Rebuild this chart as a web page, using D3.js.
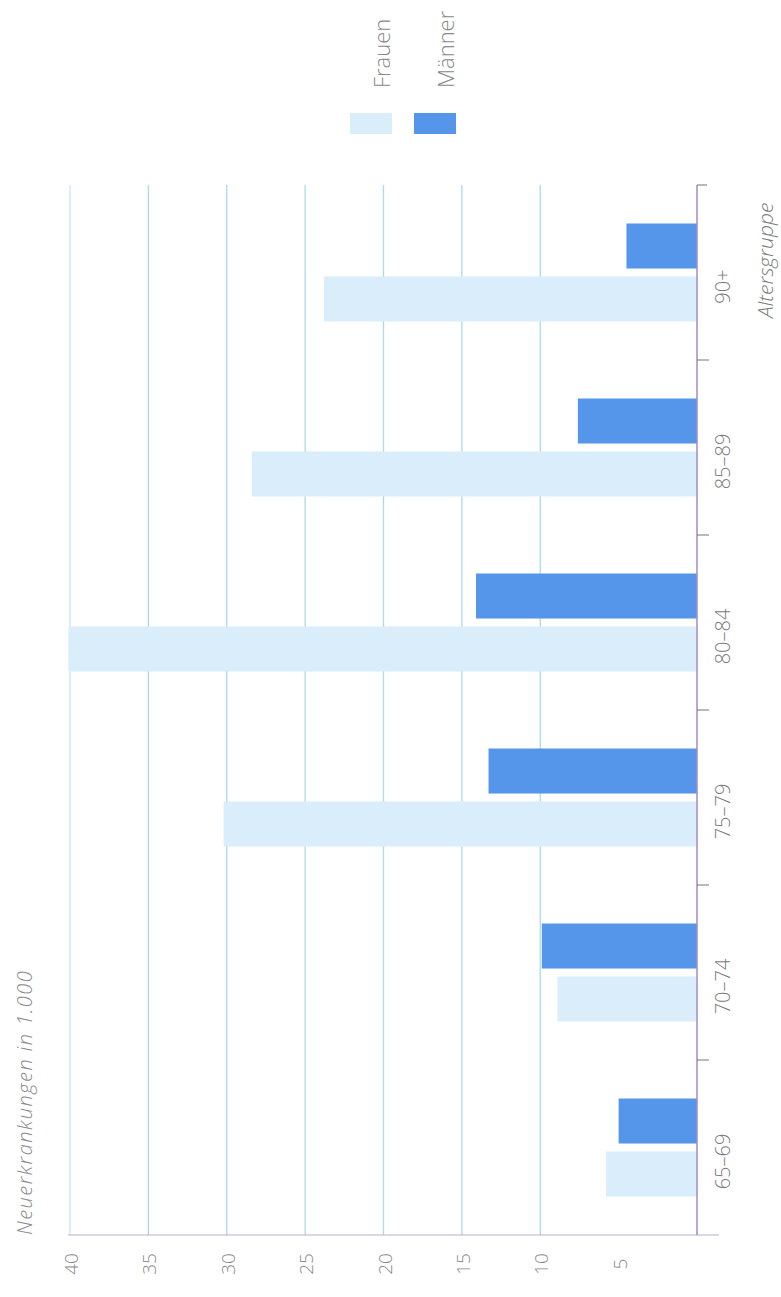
<!DOCTYPE html>
<html>
<head>
<meta charset="utf-8">
<script src="https://cdn.jsdelivr.net/npm/d3@7"></script>
<style>
  body { margin: 0; background: #fff; }
  text { font-family: "Open Sans", "Lato", sans-serif; }
</style>
</head>
<body>
<svg id="chart" width="781" height="1297"></svg>
<script>
// Age groups, bottom to top as in the (rotated) figure
const groups = ["65–69", "70–74", "75–79", "80–84", "85–89", "90+"]
const series = ["Männer", "Frauen"]
const frauen = [5.8, 8.9, 30.2, 40.1, 28.4, 23.8]
const maenner = [5.0, 9.9, 13.3, 14.1, 7.6, 4.5]
const valueTicks = [5, 10, 15, 20, 25, 30, 35, 40]

const colors = { "Frauen": "#d9edfb", "Männer": "#5596ea" }

// plot area (page is rotated: values run right to left, groups bottom to top)
const plot = { left: 68, right: 697, top: 185, bottom: 1235 }

let svg = d3.select("#chart")

// value scale: 0 at the axis on the right, 40 on the left
let x = d3.scaleLinear()
    .domain([0, 40])
    .range([plot.right, plot.left + 2])

let y0 = d3.scaleBand()
    .domain(groups)
    .range([plot.bottom, plot.top])
    .paddingInner(0.44)
    .paddingOuter(0.22)

let y1 = d3.scaleBand()
    .domain(series)
    .range([0, y0.bandwidth()])
    .paddingInner(0.15)

// Grid lines
svg.append("g")
    .selectAll("line")
    .data(valueTicks.filter(d => d > 5))
    .join("line")
    .attr("x1", d => x(d))
    .attr("x2", d => x(d))
    .attr("y1", plot.top)
    .attr("y2", plot.bottom)
    .attr("stroke", d => d == 40 ? "#c9e6f6" : "#a9d9f2")
    .attr("stroke-width", 1.3)

// Bars
let rows = groups.map((g, i) => ({ group: g, values: [
    { key: "Männer", value: maenner[i] },
    { key: "Frauen", value: frauen[i] }
] }))

svg.append("g")
    .selectAll("g")
    .data(rows)
    .join("g")
    .attr("transform", d => "translate(0," + y0(d.group) + ")")
    .selectAll("rect")
    .data(d => d.values)
    .join("rect")
    .attr("x", d => x(d.value))
    .attr("y", d => y1(d.key))
    .attr("width", d => x(0) - x(d.value))
    .attr("height", y1.bandwidth())
    .attr("fill", d => colors[d.key])

// Value axis along the bottom
svg.append("line")
    .attr("x1", plot.left)
    .attr("x2", plot.right + 22)
    .attr("y1", plot.bottom)
    .attr("y2", plot.bottom)
    .attr("stroke", "#b9b2c8")
    .attr("stroke-width", 1.2)

svg.append("g")
    .selectAll("text")
    .data(valueTicks)
    .join("text")
    .attr("transform", d => "translate(" + (x(d) + 8) + "," + (plot.bottom + 29) + ") rotate(-90)")
    .attr("text-anchor", "middle")
    .attr("font-size", 19)
    .attr("font-weight", 300)
    .attr("fill", "#8a8a8a")
    .text(d => d)

// Group axis on the right
svg.append("line")
    .attr("x1", plot.right)
    .attr("x2", plot.right)
    .attr("y1", plot.top)
    .attr("y2", plot.bottom)
    .attr("stroke", "#a68ac4")
    .attr("stroke-width", 1.5)

svg.append("line")
    .attr("x1", plot.right)
    .attr("x2", plot.right + 10)
    .attr("y1", plot.top)
    .attr("y2", plot.top)
    .attr("stroke", "#8a8a8a")
    .attr("stroke-width", 1.2)

svg.append("g")
    .selectAll("line")
    .data(groups.slice(0, -1))
    .join("line")
    .attr("x1", plot.right)
    .attr("x2", plot.right + 12)
    .attr("y1", d => y0(d) - y0.step() * y0.paddingInner() / 2)
    .attr("y2", d => y0(d) - y0.step() * y0.paddingInner() / 2)
    .attr("stroke", "#777")
    .attr("stroke-width", 1)

svg.append("g")
    .selectAll("text")
    .data(groups)
    .join("text")
    .attr("transform", d => "translate(730," + (y0(d) + y0.bandwidth() / 2 + 14) + ") rotate(-90)")
    .attr("text-anchor", "middle")
    .attr("font-size", 20)
    .attr("font-weight", 300)
    .attr("fill", "#7a7a7a")
    .text(d => d)

// Axis titles
svg.append("text")
    .attr("transform", "translate(32," + plot.bottom + ") rotate(-90)")
    .attr("font-size", 20)
    .attr("font-style", "italic")
    .attr("font-weight", 300)
    .attr("letter-spacing", 1.5)
    .attr("fill", "#8a8a8a")
    .text("Neuerkrankungen in 1.000")

svg.append("text")
    .attr("transform", "translate(773,318) rotate(-90)")
    .attr("font-size", 21)
    .attr("font-style", "italic")
    .attr("font-weight", 300)
    .attr("fill", "#7a7a7a")
    .text("Altersgruppe")

// Legend
let legend = svg.append("g")
    .selectAll("g")
    .data(["Frauen", "Männer"])
    .join("g")
    .attr("transform", (d, i) => "translate(" + (350 + i * 64) + ",0)")

legend.append("rect")
    .attr("x", 0)
    .attr("y", 113)
    .attr("width", 42)
    .attr("height", 21)
    .attr("fill", d => colors[d])

legend.append("text")
    .attr("transform", "translate(40,88) rotate(-90)")
    .attr("font-size", 22)
    .attr("font-weight", 300)
    .attr("fill", "#8a8a8a")
    .text(d => d)
</script>
</body>
</html>
